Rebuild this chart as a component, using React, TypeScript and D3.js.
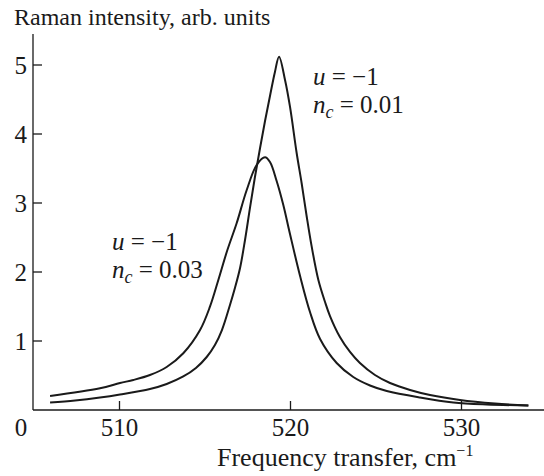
import React from "react";
import * as d3 from "d3";

// Curve for u = -1, n_c = 0.01 (narrow, tall)
const freqA = [505.94, 507.4, 508.86, 510.03, 511.78, 512.76, 513.73, 514.47, 515.1, 515.58, 515.99, 516.46, 516.75, 517.05, 517.34, 517.63, 517.92, 518.22, 518.51, 518.8, 519.09, 519.33, 519.68, 519.97, 520.36, 520.65, 520.95, 521.24, 521.63, 522.02, 522.31, 522.89, 523.48, 524.06, 524.94, 525.82, 526.99, 528.16, 529.91, 531.96, 533.91];
const intensityA = [0.109, 0.138, 0.181, 0.225, 0.304, 0.377, 0.486, 0.609, 0.768, 0.942, 1.159, 1.522, 1.768, 2.058, 2.464, 2.928, 3.377, 3.797, 4.188, 4.551, 4.899, 5.12, 4.783, 4.396, 3.725, 3.29, 2.801, 2.367, 1.884, 1.565, 1.362, 1.058, 0.841, 0.681, 0.507, 0.391, 0.29, 0.217, 0.145, 0.094, 0.065];

// Curve for u = -1, n_c = 0.03 (broad, lower)
const freqB = [505.94, 508.86, 510.03, 510.81, 511.78, 512.76, 513.73, 514.71, 515.29, 515.78, 516.29, 516.85, 517.44, 518.02, 518.51, 518.8, 519.19, 519.58, 519.97, 520.56, 521.14, 521.73, 522.7, 523.67, 524.65, 525.63, 527.57, 529.52, 531.47, 533.91];
const intensityB = [0.203, 0.314, 0.391, 0.435, 0.507, 0.623, 0.822, 1.159, 1.497, 1.884, 2.304, 2.706, 3.188, 3.551, 3.662, 3.594, 3.319, 2.971, 2.551, 1.942, 1.42, 1.029, 0.681, 0.478, 0.355, 0.275, 0.181, 0.109, 0.08, 0.065];

const xTicks = [510, 520, 530];
const yTicks = [1, 2, 3, 4, 5];
const xDomain = [505, 535];
const yDomain = [0, 5];

const INK = "#1a1a1a";
const FONT = "Liberation Serif, Times New Roman, DejaVu Serif, serif";

export default function App() {
  const W = 544, H = 476;
  const x = d3.scaleLinear().domain(xDomain).range([34, 547]);
  const y = d3.scaleLinear().domain(yDomain).range([410, 65]);
  const axisX0 = 33;

  const line = d3
    .line<[number, number]>()
    .x((d) => x(d[0]))
    .y((d) => y(d[1]))
    .curve(d3.curveCatmullRom.alpha(0.5));

  const ptsA: [number, number][] = freqA.map((f, i) => [f, intensityA[i]]);
  const ptsB: [number, number][] = freqB.map((f, i) => [f, intensityB[i]]);

  return (
    <svg
      width={W}
      height={H}
      style={{ position: "absolute", left: 0, top: 0, background: "#fff" }}
    >
      {/* axes */}
      <line x1={axisX0} x2={axisX0} y1={34} y2={y(0)} stroke={INK} strokeWidth={1.3} />
      <line x1={axisX0} x2={544} y1={y(0)} y2={y(0)} stroke={INK} strokeWidth={1.3} />
      {yTicks.map((t) => (
        <g key={"y" + t}>
          <line x1={axisX0} x2={axisX0 + 9} y1={y(t)} y2={y(t)} stroke={INK} strokeWidth={1.3} />
          <text x={27} y={y(t) + 9} textAnchor="end" fontSize={25} fontFamily={FONT} fill={INK}>
            {t}
          </text>
        </g>
      ))}
      {xTicks.map((t) => (
        <g key={"x" + t}>
          <line x1={x(t)} x2={x(t)} y1={y(0)} y2={y(0) - 9} stroke={INK} strokeWidth={1.3} />
          <text x={x(t)} y={436} textAnchor="middle" fontSize={25} fontFamily={FONT} fill={INK}>
            {t}
          </text>
        </g>
      ))}
      <text x={21} y={436} textAnchor="middle" fontSize={25} fontFamily={FONT} fill={INK}>0</text>

      {/* titles */}
      <text x={14} y={25} fontSize={24} fontFamily={FONT} fill={INK}>Raman intensity, arb. units</text>
      <text x={217} y={466} fontSize={26} fontFamily={FONT} fill={INK}>
        Frequency transfer, cm
        <tspan fontSize={16} dy={-10}>−1</tspan>
      </text>

      {/* curves */}
      <path d={line(ptsA) || ""} fill="none" stroke={INK} strokeWidth={2} />
      <path d={line(ptsB) || ""} fill="none" stroke={INK} strokeWidth={2} />

      {/* annotations */}
      <text x={313} y={85} fontSize={25} fontFamily={FONT} fill={INK}>
        <tspan fontStyle="italic">u</tspan> = −1
      </text>
      <text x={313} y={113} fontSize={25} fontFamily={FONT} fill={INK}>
        <tspan fontStyle="italic">n</tspan>
        <tspan fontStyle="italic" fontSize={18} dy={5}>c</tspan>
        <tspan dy={-5}> = 0.01</tspan>
      </text>
      <text x={112} y={250} fontSize={25} fontFamily={FONT} fill={INK}>
        <tspan fontStyle="italic">u</tspan> = −1
      </text>
      <text x={112} y={278} fontSize={25} fontFamily={FONT} fill={INK}>
        <tspan fontStyle="italic">n</tspan>
        <tspan fontStyle="italic" fontSize={18} dy={5}>c</tspan>
        <tspan dy={-5}> = 0.03</tspan>
      </text>
    </svg>
  );
}
